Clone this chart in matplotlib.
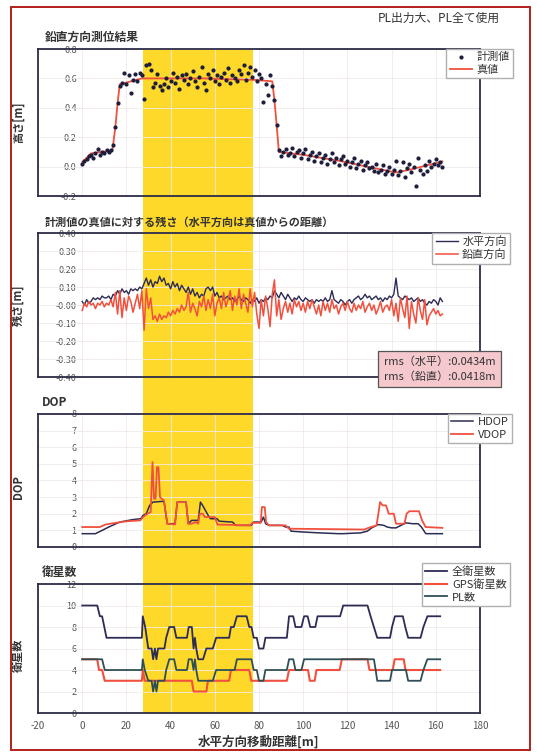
import numpy as np
import matplotlib
matplotlib.use("Agg")
import matplotlib.pyplot as plt
from matplotlib.patches import Rectangle
from matplotlib.ticker import FormatStrFormatter

plt.rcParams['font.family'] = ['Noto Sans CJK JP', 'DejaVu Sans']
plt.rcParams['axes.unicode_minus'] = False

# ---------------- data ----------------
band_range = (27.5, 77.5)          # yellow section [m]
dist = np.arange(0, 164, 1.0)      # sample positions [m]

# vertical positioning result: measured heights [m]
height_meas = [
    0.02, 0.04, 0.05, 0.07, 0.08, 0.06, 0.09, 0.12, 0.08, 0.10, 0.09, 0.11, 0.10, 0.11,
    0.15, 0.27, 0.43, 0.55,
    0.57, 0.64, 0.56, 0.62, 0.50, 0.59, 0.63, 0.58, 0.64, 0.62,
    0.46, 0.69, 0.70, 0.66, 0.54, 0.57, 0.63, 0.55, 0.52, 0.56,
    0.60, 0.54, 0.58, 0.64, 0.57, 0.61, 0.53, 0.62, 0.59, 0.63,
    0.56, 0.60, 0.65, 0.58, 0.54, 0.61, 0.68, 0.57, 0.52, 0.63,
    0.60, 0.66, 0.58, 0.62, 0.56, 0.61, 0.64, 0.59, 0.67, 0.57,
    0.62, 0.60, 0.58, 0.66, 0.63, 0.69, 0.59, 0.64, 0.68, 0.61,
    0.66, 0.58, 0.63, 0.60, 0.44, 0.56, 0.49, 0.62, 0.55,
    0.45, 0.28, 0.11,
    0.07, 0.10, 0.12, 0.08, 0.09, 0.13, 0.07, 0.10, 0.11, 0.06,
    0.09, 0.12, 0.05, 0.08, 0.10, 0.04, 0.07, 0.09, 0.03, 0.06,
    0.08, 0.02, 0.05, 0.09, 0.03, 0.06, 0.01, 0.05, 0.07, 0.02,
    0.04, 0.00, 0.03, 0.06, -0.01, 0.02, 0.04, -0.02, 0.01, 0.03,
    -0.01, 0.00, -0.03, 0.02, -0.04, -0.02, 0.01, -0.05, -0.03, 0.00,
    -0.05, -0.02, 0.04, -0.06, -0.03, 0.03, -0.07, -0.01, 0.02, -0.04,
    0.00, -0.13, 0.06, -0.02, -0.05, 0.01, -0.03, 0.04, 0.00, 0.02,
    0.05, 0.01, 0.03, 0.00,
]
truth_x = [0, 4, 13.6, 14, 15, 16, 17, 27, 55, 78, 86, 87, 88, 89, 100, 116, 132, 142, 148.5, 163]
truth_y = [0.03, 0.09, 0.11, 0.15, 0.27, 0.43, 0.56, 0.60, 0.60, 0.59, 0.58, 0.45, 0.28, 0.10,
           0.08, 0.04, -0.01, -0.04, -0.02, 0.035]

# residuals to truth [m]
res_horiz = [
    0.02, 0.00, 0.03, 0.01, 0.02, 0.04, 0.03, 0.04, 0.03, 0.05, 0.04, 0.04, 0.05, 0.03,
    0.06, 0.05, 0.08, 0.06, 0.09, 0.07, 0.08, 0.06, 0.09, 0.08, 0.09, 0.08, 0.10, 0.09,
    0.12, 0.15, 0.11, 0.14, 0.10, 0.13, 0.12, 0.16, 0.13, 0.15,
    0.11, 0.12, 0.09, 0.13, 0.10, 0.12, 0.08, 0.11, 0.09, 0.07,
    0.10, 0.06, 0.09, 0.05, 0.07, 0.04, 0.06, 0.05, 0.09, 0.10,
    0.08, 0.10, 0.05, 0.07, 0.04, 0.05, 0.03, 0.04, 0.05, 0.03,
    0.04, 0.02, 0.03, 0.05, 0.03, 0.02, 0.04, 0.03, 0.01, 0.03,
    0.02, 0.04, 0.01, 0.03, 0.02, 0.04, 0.03, 0.05, 0.04, 0.08,
    0.06, 0.04, 0.07, 0.05, 0.03, 0.06, 0.04, 0.02, 0.04, 0.03,
    0.05, 0.03, 0.02, 0.04, 0.03, 0.02, 0.03, 0.01, 0.03, 0.02,
    0.03, 0.02, 0.04, 0.02, 0.03, 0.08, 0.03, 0.02, 0.01, 0.03,
    0.02, 0.00, 0.02, 0.03, 0.01, 0.03, 0.04, 0.05, 0.03, 0.04,
    0.06, 0.04, 0.05, 0.03, 0.04, 0.05, 0.03, 0.04, 0.02, 0.04,
    0.03, 0.05, 0.04, 0.06, 0.15, 0.05, 0.04, 0.03, 0.05, 0.04,
    0.03, 0.04, 0.02, 0.03, 0.04, 0.02, 0.03, 0.01, 0.00, 0.02,
    0.01, 0.03, 0.02, 0.00, 0.04, 0.02,
]
res_vert = [
    -0.03, 0.01, -0.01, 0.02, 0.00, 0.01, -0.02, 0.01, 0.00, 0.02, -0.01, 0.01, 0.00, 0.03,
    -0.01, 0.07, -0.05, 0.08, -0.07, 0.04, -0.03, 0.05, 0.02, -0.04, 0.01, 0.06, -0.02, 0.08,
    -0.14, 0.09, -0.02, 0.04, -0.08, -0.06, -0.09, -0.05, -0.08, -0.06,
    -0.07, -0.04, -0.06, -0.03, -0.05, -0.02, -0.04, 0.00, -0.03, -0.01,
    0.07, -0.04, 0.01, -0.02, -0.06, 0.02, -0.01, 0.05, -0.03, 0.03,
    -0.02, 0.06, -0.06, 0.01, 0.04, -0.02, 0.07, -0.01, 0.03, 0.08,
    -0.03, 0.05, 0.00, 0.09, -0.02, 0.06, 0.01, -0.04, 0.09, -0.01,
    0.07, -0.05, -0.13, 0.03, -0.06, 0.05, -0.02, -0.12, 0.06, 0.14,
    -0.06, 0.03, -0.08, -0.02, 0.02, -0.04, 0.01, -0.05, 0.03, -0.01,
    0.02, -0.03, 0.01, -0.04, 0.02, -0.02, 0.03, -0.01, -0.05, 0.00,
    -0.06, 0.02, -0.03, 0.01, -0.04, 0.03, -0.02, 0.00, -0.05, -0.01,
    0.01, -0.03, 0.02, -0.02, -0.04, 0.01, -0.03, 0.00, -0.02, 0.02,
    -0.04, -0.01, 0.01, -0.03, 0.00, -0.05, -0.02, 0.02, -0.04, -0.01,
    0.00, -0.03, 0.03, -0.06, 0.01, -0.09, 0.04, -0.02, -0.07, 0.05,
    -0.13, 0.02, -0.05, -0.10, 0.04, -0.03, -0.08, 0.03, -0.11, -0.06,
    -0.04, -0.02, -0.05, -0.03, -0.06, -0.05,
]
rms_horiz = 0.0434
rms_vert = 0.0418

# DOP
hdop_x = [0, 6, 9, 12, 17, 23, 26.5, 27.5, 29, 30.5, 32, 37, 38.5, 42, 43, 47, 48, 49.5, 52.5,
          53.5, 54.5, 57, 58, 61, 62, 68, 69.5, 76.5, 77.5, 81, 82, 83, 84.5, 90.5, 92, 93.5,
          94.5, 100, 107, 116, 118, 126, 129, 131, 134, 136.5, 138, 140, 142, 146.5, 149.5,
          152, 153.5, 155.5, 163]
hdop_y = [0.8, 0.8, 1.0, 1.2, 1.5, 1.65, 1.7, 1.9, 2.0, 2.5, 2.7, 2.75, 1.4, 1.4, 2.7, 2.7,
          1.4, 1.6, 1.6, 2.7, 2.5, 1.9, 1.7, 1.7, 1.55, 1.5, 1.3, 1.3, 1.5, 1.5, 1.8, 1.4, 1.3,
          1.3, 1.2, 1.2, 0.95, 0.9, 0.85, 0.8, 0.8, 0.85, 0.95, 1.15, 1.35, 1.3, 1.2, 1.15,
          1.15, 1.45, 1.4, 1.4, 1.2, 0.8, 0.8]
vdop_x = [0, 8, 10.5, 15, 20.5, 26.3, 27.5, 29.5, 31, 31.8, 32.5, 33.2, 33.8, 34.5, 35.2, 36,
          37, 38.5, 42, 43, 47, 48, 49.5, 51.5, 52.5, 53.2, 54.6, 55.5, 60, 61.2, 76, 77, 80.8,
          81.3, 82.6, 83.2, 84.5, 92, 93.5, 127.8, 129.5, 133.2, 134.8, 136, 137.5, 138.7, 141,
          142, 145.8, 146.8, 148, 152.4, 153.8, 155.4, 163]
vdop_y = [1.2, 1.2, 1.35, 1.45, 1.55, 1.6, 1.8, 2.0, 2.1, 5.1, 2.9, 2.9, 4.8, 4.8, 3.0, 2.9,
          2.8, 1.4, 1.35, 2.7, 2.7, 1.4, 1.4, 1.5, 1.4, 2.0, 2.0, 1.8, 1.8, 1.35, 1.3, 1.45,
          1.45, 2.4, 2.4, 1.5, 1.3, 1.3, 1.1, 1.05, 1.15, 1.3, 2.7, 2.5, 2.5, 2.0, 2.0, 1.4,
          1.4, 2.0, 2.15, 2.15, 1.6, 1.2, 1.15]

# number of satellites
sat_total_x = [0, 6.8, 8, 9, 11, 27, 27.4, 28.5, 29.9, 31.4, 32.1, 32.9, 33.6, 34.3, 37.2, 38,
               39.4, 41.6, 42.6, 47.4, 48.2, 49.6, 50.4, 51, 51.6, 52.5, 54.7, 56.2, 59.1, 60.6,
               66.5, 67.3, 68.6, 70, 74.4, 75.6, 76.6, 77.6, 79, 80, 82, 82.9, 92.6, 93.6, 95.5,
               96.5, 99.2, 100.4, 102, 103.2, 105.5, 106.5, 116.7, 118.1, 129.1, 130.5, 132,
               133.5, 139.3, 140.2, 141.5, 145.1, 146.2, 147.5, 153.1, 154.4, 156.2, 162]
sat_total_y = [10, 10, 9, 9, 7, 7, 9, 8, 6, 6, 5, 6, 5, 6, 6, 7, 8, 8, 7, 7, 8, 8, 6, 7, 6, 5,
               5, 6, 6, 7, 7, 8, 8, 9, 9, 8, 8, 7, 7, 6, 6, 7, 7, 9, 9, 8, 8, 9, 9, 8, 8, 9, 9,
               10, 10, 9, 8, 7, 7, 8, 9, 9, 8, 7, 7, 8, 9, 9]
sat_gps_x = [0, 6.8, 7.6, 9, 10.2, 27, 27.4, 28.3, 49.6, 50.4, 56.2, 56.9, 66.5, 67.3, 75.6,
             76.5, 92.6, 93.6, 102.2, 103, 105.2, 106, 116.5, 117.5, 129.1, 130, 140.5, 141.4,
             145.5, 146.3, 162]
sat_gps_y = [5, 5, 4, 4, 3, 3, 4, 3, 3, 2, 2, 3, 3, 4, 4, 3, 3, 4, 4, 3, 3, 4, 4, 5, 5, 4, 4,
             5, 5, 4, 4]
sat_pl_x = [0, 9, 10.2, 27, 27.4, 28.3, 29.9, 31.4, 32.1, 32.9, 33.6, 34.3, 37.2, 38, 39.4,
            41.6, 42.6, 47.4, 48.2, 49.6, 50.4, 51, 51.6, 52.5, 59.1, 60.6, 69, 70, 76.6, 77.6,
            79, 80, 82, 82.9, 92.6, 93.6, 95.5, 96.5, 99.2, 100.4, 132, 132.8, 133.5, 139.3,
            140.2, 146.5, 147.5, 153.1, 154.4, 156.2, 162]
sat_pl_y = [5, 5, 4, 4, 5, 4, 3, 3, 2, 3, 2, 3, 3, 4, 5, 5, 4, 4, 5, 5, 4, 5, 4, 3, 3, 4, 4, 5,
            5, 4, 4, 3, 3, 4, 4, 5, 5, 4, 4, 5, 5, 4, 3, 3, 4, 4, 3, 3, 4, 5, 5]

x_lim = (-20, 180)
x_ticks = list(range(-20, 181, 20))

# ---------------- styling ----------------
RED = '#f2503e'
NAVY = '#2c2c55'
TEAL = '#2e4f55'
FRAME = '#2c2c48'
YELLOW = '#ffd92a'
TXT = '#333333'


def setup_panel(ax, ylim, yticks, fmt):
    ax.set_xlim(x_lim)
    ax.set_ylim(ylim)
    ax.set_facecolor('none')
    ax.set_xticks(x_ticks)
    ax.set_yticks(yticks)
    ax.grid(True, color='#f1e9e9', lw=0.6)
    ax.tick_params(axis='both', length=0, labelleft=False, labelbottom=False)
    for sp in ax.spines.values():
        sp.set_color(FRAME)
        sp.set_linewidth(1.3)
    # value labels sit on the x = 0 line, like the original Excel chart
    sec = ax.secondary_yaxis((0 - x_lim[0]) / (x_lim[1] - x_lim[0]))
    sec.set_yticks(yticks)
    sec.yaxis.set_major_formatter(FormatStrFormatter(fmt))
    sec.tick_params(length=2.5, width=0.6, color='#c8c8c8', labelsize=6.5,
                    labelcolor='#555555', pad=1.5)
    for sp in sec.spines.values():
        sp.set_visible(False)


def add_legend(ax, handles, anchor):
    leg = ax.legend(handles=handles, loc='upper right', bbox_to_anchor=anchor,
                    borderaxespad=0, fancybox=False, framealpha=1, edgecolor='#b0b0b0',
                    fontsize=8, handlelength=2.0, borderpad=0.3, labelspacing=0.2,
                    handletextpad=0.4)
    for t in leg.get_texts():
        t.set_color(TXT)
    return leg


fig = plt.figure(figsize=(5.37, 7.53), dpi=100)
fig.patch.set_facecolor('white')

left, width = 0.0708, 0.823
ax1 = fig.add_axes([left, 0.7397, width, 0.1952])
ax2 = fig.add_axes([left, 0.4993, width, 0.1912])
ax3 = fig.add_axes([left, 0.2736, width, 0.1766])
ax4 = fig.add_axes([left, 0.0531, width, 0.1713])

# --- panel 1: vertical positioning ---
setup_panel(ax1, (-0.2, 0.8), np.arange(-0.2, 0.81, 0.2), '%.1f')
l_true, = ax1.plot(truth_x, truth_y, color=RED, lw=1.3, label='真値', zorder=3)
l_meas, = ax1.plot(dist, height_meas, 'o', ms=2.0, color='#1c1c3c', lw=0,
                   label='計測値', zorder=4)
add_legend(ax1, [l_meas, l_true], (1.075, 1.0))
ax1.set_ylabel('高さ[m]', fontsize=8, fontweight='bold', color=TXT)
ax1.yaxis.set_label_coords(-0.03, 0.5)
ax1.text(0.016, 1.035, '鉛直方向測位結果', transform=ax1.transAxes, fontsize=8.5,
         fontweight='bold', color=TXT, va='bottom')

# --- panel 2: residuals ---
setup_panel(ax2, (-0.4, 0.4), np.arange(-0.4, 0.41, 0.1), '%.2f')
l_h, = ax2.plot(dist, res_horiz, color=NAVY, lw=1.0, label='水平方向', zorder=3)
l_v, = ax2.plot(dist, res_vert, color=RED, lw=1.1, label='鉛直方向', zorder=4)
add_legend(ax2, [l_h, l_v], (1.068, 1.0))
ax2.set_ylabel('残さ[m]', fontsize=8, fontweight='bold', color=TXT)
ax2.yaxis.set_label_coords(-0.03, 0.5)
ax2.text(0.016, 1.03, '計測値の真値に対する残さ（水平方向は真値からの距離）',
         transform=ax2.transAxes, fontsize=8, fontweight='bold', color=TXT, va='bottom')
ax2.text(0.782, 0.055,
         'rms（水平）:%.4fm\nrms（鉛直）:%.4fm' % (rms_horiz, rms_vert),
         transform=ax2.transAxes, fontsize=8, color=TXT, va='center', ha='left',
         linespacing=1.5, zorder=6, clip_on=False,
         bbox=dict(boxstyle='square,pad=0.5', fc='#f4c8cd', ec='#555555', lw=0.9))

# --- panel 3: DOP ---
setup_panel(ax3, (0, 8), np.arange(0, 9, 1), '%d')
l_hd, = ax3.plot(hdop_x, hdop_y, color=NAVY, lw=1.1, label='HDOP', zorder=3)
l_vd, = ax3.plot(vdop_x, vdop_y, color=RED, lw=1.3, label='VDOP', zorder=4)
add_legend(ax3, [l_hd, l_vd], (1.072, 1.0))
ax3.set_ylabel('DOP', fontsize=8, fontweight='bold', color=TXT)
ax3.yaxis.set_label_coords(-0.03, 0.45)
ax3.text(0.009, 1.035, 'DOP', transform=ax3.transAxes, fontsize=8.5,
         fontweight='bold', color=TXT, va='bottom')

# --- panel 4: satellites ---
setup_panel(ax4, (0, 12), np.arange(0, 13, 2), '%d')
l_all, = ax4.plot(sat_total_x, sat_total_y, color=NAVY, lw=1.3, label='全衛星数', zorder=3)
l_gps, = ax4.plot(sat_gps_x, sat_gps_y, color=RED, lw=1.5, label='GPS衛星数', zorder=4)
l_pl, = ax4.plot(sat_pl_x, sat_pl_y, color=TEAL, lw=1.3, label='PL数', zorder=5)
add_legend(ax4, [l_all, l_gps, l_pl], (1.068, 1.163))
ax4.set_ylabel('衛星数', fontsize=8, fontweight='bold', color=TXT)
ax4.yaxis.set_label_coords(-0.03, 0.45)
ax4.text(0.009, 1.04, '衛星数', transform=ax4.transAxes, fontsize=8.5,
         fontweight='bold', color=TXT, va='bottom')
ax4.tick_params(axis='x', labelbottom=True, labelsize=7, labelcolor='#555555', pad=6)
ax4.set_xlabel('水平方向移動距離[m]', fontsize=9, fontweight='bold', color=TXT, labelpad=3)

# yellow section spanning all four panels
inv = fig.transFigure.inverted()
bx0 = inv.transform(ax1.transData.transform((band_range[0], 0)))[0]
bx1 = inv.transform(ax1.transData.transform((band_range[1], 0)))[0]
top = ax1.get_position().y1
bot = ax4.get_position().y0
fig.add_artist(Rectangle((bx0, bot), bx1 - bx0, top - bot, transform=fig.transFigure,
                         facecolor=YELLOW, edgecolor='none', zorder=-1))

# page header and red page border
fig.text(0.93, 0.975, 'PL出力大、PL全て使用', ha='right', va='center', fontsize=8.5,
         color=TXT)
fig.add_artist(Rectangle((0.0205, 0.004), 0.967, 0.987, transform=fig.transFigure,
                         fill=False, edgecolor='#b3201c', lw=1.4))

fig.savefig('out.png', dpi=100)
